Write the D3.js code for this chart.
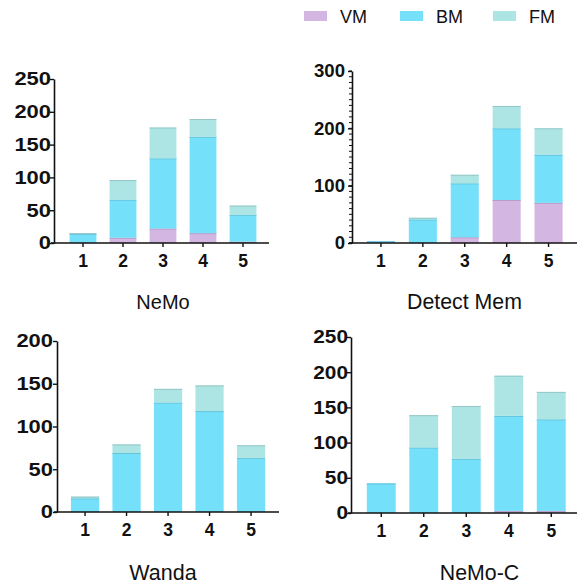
<html>
<head>
<meta charset="utf-8">
<style>
  body { margin: 0; background: #fff; }
  text { font-family: "Liberation Sans", Arial, sans-serif; }
</style>
</head>
<body>
<svg id="container" width="577" height="584"></svg>
<script src="https://cdn.jsdelivr.net/npm/d3@7"></script>
<script>
    // data
    let categories = [1, 2, 3, 4, 5]
    let seriesNames = ["VM", "BM", "FM"]
    let colors = ["#d4b6e3", "#74e0fa", "#ade5e4"]

    let nemoVM = [0, 8, 22, 15, 2]
    let nemoBM = [14, 58, 107, 147, 41]
    let nemoFM = [1, 30, 47, 27, 14]

    let detectVM = [0, 0, 10, 75, 70]
    let detectBM = [3, 41, 94, 125, 84]
    let detectFM = [0, 3, 15, 39, 46]

    let wandaVM = [0, 0, 0, 0, 0]
    let wandaBM = [16, 69, 128, 118, 63]
    let wandaFM = [2, 10, 16, 30, 15]

    let nemocVM = [0, 0, 0, 3, 3]
    let nemocBM = [42, 93, 77, 135, 130]
    let nemocFM = [0, 46, 75, 57, 39]

    let titles = ["NeMo", "Detect Mem", "Wanda", "NeMo-C"]
    let yMax = [250, 300, 200, 250]
    let yStep = [50, 100, 50, 50]

    // panel layout (pixels); sx = horizontal stretch of the y tick labels
    let panels = [
        { vm: nemoVM, bm: nemoBM, fm: nemoFM, ax: 54, y0: 243, yTop: 79, x0: 63, x1: 263, xEnd: 269, pad: 0.33, tx: 163, ty: 309, tf: 20, sx: 1.18, gap: 3 },
        { vm: detectVM, bm: detectBM, fm: detectFM, ax: 352, y0: 243, yTop: 71, x0: 360, x1: 569.5, xEnd: 577, pad: 0.33, tx: 464.5, ty: 309, tf: 21.3, sx: 1.0, gap: 7, minor: 10 },
        { vm: wandaVM, bm: wandaBM, fm: wandaFM, ax: 57, y0: 512, yTop: 341, x0: 64.3, x1: 271.8, xEnd: 279, pad: 0.32, tx: 163, ty: 580, tf: 21.5, sx: 1.18, gap: 4 },
        { vm: nemocVM, bm: nemocBM, fm: nemocFM, ax: 351, y0: 513, yTop: 337, x0: 360, x1: 572.5, xEnd: 577, pad: 0.32, tx: 479.5, ty: 580, tf: 21.3, sx: 1.12, gap: 3 }
    ]

    let svg = d3.select("#container")

    function drawPanel(p, i) {
        let g = svg.append("g")

        let rows = categories.map((c, k) => ({ cat: c, VM: p.vm[k], BM: p.bm[k], FM: p.fm[k] }))
        let stacked = d3.stack().keys(seriesNames)(rows)

        let x = d3.scaleBand()
            .domain(categories)
            .range([p.x0, p.x1])
            .paddingInner(p.pad)
            .paddingOuter(p.pad / 2)

        let y = d3.scaleLinear()
            .domain([0, yMax[i]])
            .range([p.y0, p.yTop])

        g.selectAll("g.series").data(stacked)
            .enter().append("g")
            .attr("class", "series")
            .attr("fill", (d, k) => colors[k])
            .selectAll("rect").data(d => d)
            .enter().append("rect")
            .attr("x", d => x(d.data.cat))
            .attr("width", x.bandwidth())
            .attr("y", d => y(d[1]))
            .attr("height", d => y(d[0]) - y(d[1]))

        // thin darker line where one segment ends
        g.selectAll("g.series").each(function (s, k) {
            d3.select(this).selectAll("line").data(s.filter(d => d[1] - d[0] > 0))
                .enter().append("line")
                .attr("x1", d => x(d.data.cat))
                .attr("x2", d => x(d.data.cat) + x.bandwidth())
                .attr("y1", d => y(d[1]) + 0.5)
                .attr("y2", d => y(d[1]) + 0.5)
                .attr("stroke", d3.color(colors[k]).darker(0.4))
                .attr("stroke-width", 1)
        })

        // y axis
        let yAxis = g.append("g")
            .attr("transform", `translate(${p.ax},0)`)
            .call(d3.axisLeft(y)
                .tickValues(d3.range(0, yMax[i] + 1, yStep[i]))
                .tickSize(4)
                .tickSizeOuter(0))
        if (p.minor) {
            yAxis.selectAll(".minor").data(d3.range(0, yMax[i] + 1, p.minor))
                .enter().append("line")
                .attr("class", "minor")
                .attr("x2", -3)
                .attr("y1", d => y(d))
                .attr("y2", d => y(d))
                .attr("stroke", "#111")
        }
        yAxis.select(".domain").attr("stroke", "#111").attr("stroke-width", 1.6)
        yAxis.selectAll(".tick line").attr("stroke", "#111").attr("stroke-width", 1.4)
        yAxis.selectAll(".tick text")
            .attr("x", -p.gap / p.sx)
            .attr("transform", `scale(${p.sx},1)`)
            .attr("font-size", 18.6)
            .attr("font-weight", "bold")
            .attr("fill", "#111")
            .style("font-family", "'Liberation Sans', Arial, sans-serif")

        // x axis
        let xAxis = g.append("g")
            .attr("transform", `translate(0,${p.y0})`)
            .call(d3.axisBottom(x).tickSize(4).tickSizeOuter(0).tickPadding(8))
        xAxis.select(".domain")
            .attr("d", `M${p.ax - 3},0H${p.xEnd}`)
            .attr("stroke", "#111").attr("stroke-width", 1.6)
        xAxis.selectAll(".tick line").attr("stroke", "#111").attr("stroke-width", 1.4)
        xAxis.selectAll("text")
            .attr("font-size", 17.5)
            .attr("font-weight", "bold")
            .attr("fill", "#111")
            .style("font-family", "'Liberation Sans', Arial, sans-serif")

        g.append("text")
            .attr("x", p.tx)
            .attr("y", p.ty)
            .attr("text-anchor", "middle")
            .attr("font-size", p.tf)
            .attr("fill", "#111")
            .text(titles[i])
    }

    panels.forEach(drawPanel)

    // legend
    let legendX = [304, 400, 493]
    let legend = svg.append("g")
    legend.selectAll("rect").data(seriesNames)
        .enter().append("rect")
        .attr("x", (d, k) => legendX[k])
        .attr("y", 11)
        .attr("width", 23)
        .attr("height", 10)
        .attr("fill", (d, k) => colors[k])
    legend.selectAll("text").data(seriesNames)
        .enter().append("text")
        .attr("x", (d, k) => legendX[k] + 36)
        .attr("y", 23)
        .attr("font-size", 18)
        .attr("fill", "#111")
        .text(d => d)
</script>
</body>
</html>
